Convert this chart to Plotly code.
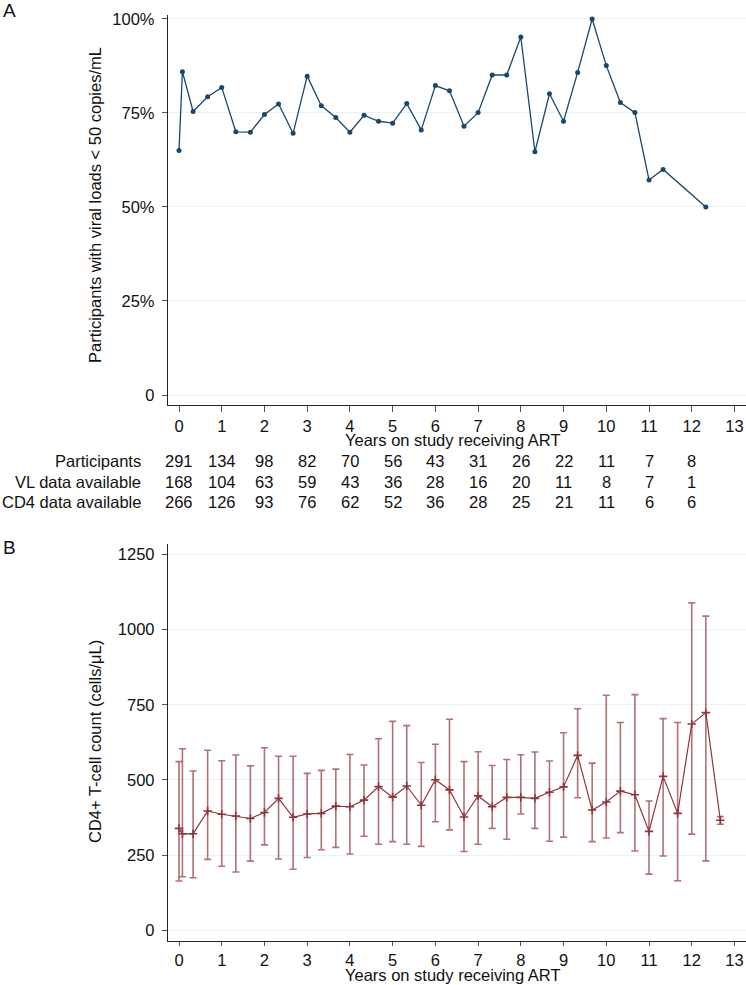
import plotly.graph_objects as go

W, H = 746, 985

# ---------------- data ----------------
years_vl = [0, 0.08, 0.33, 0.67, 1.0, 1.33, 1.67, 2.0, 2.33, 2.67, 3.0, 3.33, 3.67,
            4.0, 4.33, 4.67, 5.0, 5.33, 5.67, 6.0, 6.33, 6.67, 7.0, 7.33, 7.67, 8.0,
            8.33, 8.67, 9.0, 9.33, 9.67, 10.0, 10.33, 10.67, 11.0, 11.33, 12.33]
pct_vl = [65, 86, 75.4, 79.3, 81.8, 70, 69.9, 74.6, 77.4, 69.6, 84.8, 76.9, 73.8,
          69.9, 74.4, 72.8, 72.3, 77.5, 70.5, 82.3, 80.9, 71.5, 75.1, 85.1, 85.1, 95.2,
          64.7, 80.1, 72.8, 85.8, 100, 87.6, 77.8, 75.1, 57.2, 60, 50]

years_cd4 = [0, 0.08, 0.33, 0.67, 1.0, 1.33, 1.67, 2.0, 2.33, 2.67, 3.0, 3.33, 3.67,
             4.0, 4.33, 4.67, 5.0, 5.33, 5.67, 6.0, 6.33, 6.67, 7.0, 7.33, 7.67, 8.0,
             8.33, 8.67, 9.0, 9.33, 9.67, 10.0, 10.33, 10.67, 11.0, 11.33, 11.67, 12.0,
             12.33, 12.67]
cd4_mean = [339, 321, 321, 397, 386, 380, 372, 392, 439, 376, 387, 389, 413, 411, 433,
            478, 443, 480, 416, 501, 467, 377, 447, 411, 442, 442, 439, 459, 477, 582,
            400, 427, 463, 451, 329, 512, 389, 686, 724, 366]
cd4_upper = [561, 604, 530, 599, 564, 583, 547, 607, 579, 579, 522, 532, 536, 585, 550,
             637, 695, 681, 558, 619, 702, 561, 594, 548, 568, 584, 593, 563, 657, 737,
             556, 782, 691, 784, 430, 704, 691, 1089, 1045, 378]
cd4_lower = [164, 178, 175, 236, 213, 194, 230, 284, 237, 203, 242, 268, 276, 254, 313,
             286, 295, 286, 279, 361, 334, 262, 286, 339, 303, 387, 339, 296, 310, 441,
             295, 307, 325, 264, 187, 247, 165, 320, 231, 353]

table_years = [0, 1, 2, 3, 4, 5, 6, 7, 8, 9, 10, 11, 12]
row_labels = ["Participants", "VL data available", "CD4 data available"]
participants = [291, 134, 98, 82, 70, 56, 43, 31, 26, 22, 11, 7, 8]
vl_available = [168, 104, 63, 59, 43, 36, 28, 16, 20, 11, 8, 7, 1]
cd4_available = [266, 126, 93, 76, 62, 52, 36, 28, 25, 21, 11, 6, 6]

x_ticks = list(range(0, 14))
vl_ticks = [0, 25, 50, 75, 100]
vl_ticktext = ["0", "25%", "50%", "75%", "100%"]
cd4_ticks = [0, 250, 500, 750, 1000, 1250]

x_title = "Years on study receiving ART"
vl_title = "Participants with viral loads < 50 copies/mL"
cd4_title = "CD4+ T-cell count (cells/μL)"

# ---------------- style ----------------
FONT = "Helvetica, Arial, Liberation Sans, sans-serif"
FS = 16.5
TXT = "#111111"
NAVY = "#1a476f"
MAROON = "#90353b"
GRID = "#eaf2f3"
AXIS = "#222222"


def py(p):  # screen pixel row -> paper y
    return 1 - p / H


def px(p):  # screen pixel column -> paper x
    return p / W


fig = go.Figure()

fig.add_trace(go.Scatter(
    x=years_vl, y=pct_vl, mode="lines+markers",
    line=dict(color=NAVY, width=1.3),
    marker=dict(color=NAVY, size=5),
    xaxis="x", yaxis="y", showlegend=False))

err_plus = [u - m for u, m in zip(cd4_upper, cd4_mean)]
err_minus = [m - l for m, l in zip(cd4_mean, cd4_lower)]
fig.add_trace(go.Scatter(
    x=years_cd4, y=cd4_mean, mode="lines+markers",
    line=dict(color=MAROON, width=1.2),
    marker=dict(color=MAROON, size=6, symbol="cross-thin",
                line=dict(color=MAROON, width=1.6)),
    error_y=dict(type="data", symmetric=False, array=err_plus, arrayminus=err_minus,
                 color="rgba(144,53,59,0.7)", thickness=1.6, width=3.5),
    xaxis="x2", yaxis="y2", showlegend=False))

x_dom = [px(168), 1.0]
xrange = [-0.2575, 13.27]

common_x = dict(range=xrange, tickmode="array", tickvals=x_ticks, ticks="outside",
                tickcolor="#555", tickwidth=1.2, showline=True,
                linecolor=AXIS, linewidth=1.3, showgrid=False, zeroline=False,
                tickfont=dict(family=FONT, size=FS, color=TXT), domain=x_dom,
                automargin=False)
common_y = dict(ticks="outside", ticklen=5, tickcolor="#555", tickwidth=1.2,
                showline=True, linecolor=AXIS, linewidth=1.3, showgrid=True,
                gridcolor=GRID, gridwidth=1.2, zeroline=False, ticklabelstandoff=4,
                tickfont=dict(family=FONT, size=FS, color=TXT), automargin=False)

fig.update_layout(
    width=W, height=H, autosize=False,
    margin=dict(l=0, r=0, t=0, b=0),
    paper_bgcolor="white", plot_bgcolor="white",
    font=dict(family=FONT, size=FS, color=TXT),
    xaxis=dict(anchor="y", ticklen=6, **common_x),
    yaxis=dict(anchor="x", domain=[py(405), py(15)], range=[-2.66, 101.06],
               tickmode="array", tickvals=vl_ticks, ticktext=vl_ticktext, **common_y),
    xaxis2=dict(anchor="y2", ticklen=4, **common_x),
    yaxis2=dict(anchor="x2", domain=[py(941), py(544)], range=[-35.6, 1285],
                tickmode="array", tickvals=cd4_ticks, **common_y),
)

ann = []
# panel letters
ann.append(dict(text="A", x=px(1), y=py(10), xref="paper", yref="paper",
                xanchor="left", yanchor="middle", showarrow=False,
                font=dict(family=FONT, size=19, color=TXT)))
ann.append(dict(text="B", x=px(1), y=py(547), xref="paper", yref="paper",
                xanchor="left", yanchor="middle", showarrow=False,
                font=dict(family=FONT, size=19, color=TXT)))
# axis titles
ann.append(dict(text=vl_title, x=px(95), y=py(205), xref="paper", yref="paper",
                textangle=-90, showarrow=False, xanchor="center", yanchor="middle",
                font=dict(family=FONT, size=FS, color=TXT)))
ann.append(dict(text=cd4_title, x=px(95), y=py(742), xref="paper", yref="paper",
                textangle=-90, showarrow=False, xanchor="center", yanchor="middle",
                font=dict(family=FONT, size=FS, color=TXT)))
ann.append(dict(text=x_title, x=px(453), y=py(440), xref="paper", yref="paper",
                showarrow=False, xanchor="center", yanchor="middle",
                font=dict(family=FONT, size=FS, color=TXT)))
ann.append(dict(text=x_title, x=px(453), y=py(975), xref="paper", yref="paper",
                showarrow=False, xanchor="center", yanchor="middle",
                font=dict(family=FONT, size=FS, color=TXT)))
# risk table
row_y = [461, 481.5, 502]
for label, vals, ry in zip(row_labels, [participants, vl_available, cd4_available], row_y):
    ann.append(dict(text=label, x=px(143), y=py(ry), xref="paper", yref="paper",
                    showarrow=False, xanchor="right", yanchor="middle",
                    font=dict(family=FONT, size=FS, color=TXT)))
    for yr, v in zip(table_years, vals):
        ann.append(dict(text=str(v), x=yr, y=py(ry), xref="x", yref="paper",
                        showarrow=False, xanchor="center", yanchor="middle",
                        font=dict(family=FONT, size=FS, color=TXT)))

fig.update_layout(annotations=ann)

# remove the page's default 8px body margin so the figure fills the window
fig.write_html("out.html",
               config={"displayModeBar": False},
               post_script="document.body.style.margin='0';"
                           "document.body.style.overflow='hidden';")
